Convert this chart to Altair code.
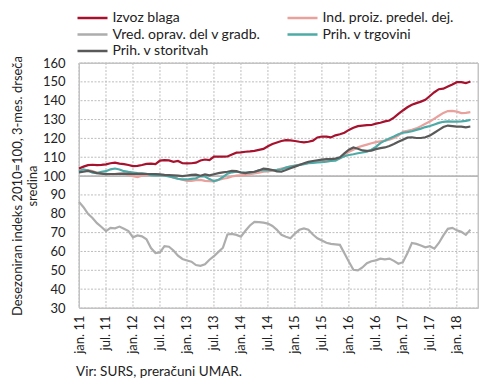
import altair as alt
import pandas as pd

# month index: 0 = jan. 2011 ... 87 = apr. 2018
months = list(range(88))

izvoz = [104.0, 105.0, 105.8, 106.0, 105.8, 105.9, 106.2, 106.8, 107.1, 106.6,
         106.3, 105.9, 105.3, 105.4, 105.9, 106.5, 106.6, 106.3, 108.2, 108.5,
         108.3, 107.6, 108.0, 106.8, 106.7, 106.8, 107.1, 108.3, 108.8, 108.5,
         110.3, 110.4, 110.3, 110.4, 111.5, 112.4, 112.6, 112.9, 113.1, 113.4,
         113.9, 114.4, 115.8, 117.0, 117.8, 118.6, 119.1, 118.9, 118.6, 118.2,
         117.9, 118.2, 118.8, 120.5, 121.0, 120.9, 120.5, 121.6, 122.2, 123.0,
         124.5, 125.6, 126.5, 126.8, 127.0, 127.1, 127.8, 128.3, 129.0, 129.5,
         131.0, 133.0, 134.8, 136.5, 137.8, 138.7, 139.5, 140.5, 142.5, 144.5,
         146.1, 146.4, 147.5, 148.6, 149.8, 149.8, 149.3, 150.2]

ind_proiz = [102.8, 103.2, 103.2, 102.6, 101.8, 101.3, 101.1, 101.0, 101.0, 101.3,
             101.2, 100.6, 100.0, 99.5, 100.2, 100.5, 100.8, 101.0, 100.7, 100.3,
             100.0, 99.2, 98.6, 98.1, 97.5, 97.4, 97.8, 98.0, 97.5, 97.3,
             97.2, 97.9, 98.6, 99.0, 99.8, 100.2, 100.4, 100.6, 101.0, 101.4,
             101.8, 102.3, 102.5, 102.9, 103.3, 104.0, 104.5, 105.2, 105.6, 106.0,
             106.4, 107.0, 107.5, 108.0, 108.1, 108.2, 108.3, 108.8, 109.5, 111.2,
             112.9, 114.0, 115.3, 116.0, 116.7, 117.4, 118.0, 118.4, 118.8, 119.3,
             120.2, 121.5, 123.5, 124.0, 124.5, 125.3, 126.5, 127.8, 129.0, 130.5,
             132.0, 133.5, 134.5, 134.6, 134.2, 133.4, 133.5, 133.9]

gradb = [86.3, 83.5, 80.0, 77.8, 75.0, 73.0, 70.8, 72.5, 72.3, 73.2,
         72.0, 70.8, 67.5, 68.5, 68.0, 66.5, 61.8, 59.2, 59.5, 62.8,
         62.5, 60.5, 57.8, 56.0, 55.2, 54.6, 52.8, 52.4, 53.2, 55.6,
         57.5, 59.8, 62.0, 69.0, 69.3, 68.8, 67.8, 71.0, 73.8, 75.7,
         75.6, 75.3, 74.8, 73.5, 71.5, 68.8, 67.8, 67.0, 69.5, 71.5,
         72.2, 71.5, 69.0, 67.0, 65.8, 64.6, 64.0, 63.8, 63.5, 59.0,
         54.5, 50.3, 50.0, 51.5, 53.8, 54.8, 55.3, 56.2, 55.8, 56.2,
         55.0, 53.5, 54.3, 59.0, 64.5, 64.0, 63.2, 62.2, 62.8, 61.5,
         64.5, 68.5, 72.0, 72.5, 71.2, 70.4, 68.8, 71.6]

trgovina = [102.5, 103.6, 103.0, 101.8, 101.6, 102.3, 102.6, 103.6, 104.0, 103.5,
            102.6, 102.2, 101.9, 101.6, 101.4, 101.2, 100.5, 100.4, 100.5, 100.2,
            99.8, 99.3, 98.6, 98.2, 98.2, 98.5, 98.8, 100.0, 99.8, 98.4,
            97.3, 98.0, 99.5, 101.3, 102.0, 102.3, 102.0, 101.8, 101.9, 102.2,
            103.0, 103.3, 103.2, 103.2, 103.3, 103.5, 104.5, 105.0, 105.5, 105.9,
            106.3, 106.8, 107.0, 107.3, 107.4, 107.6, 108.0, 108.2, 109.5, 110.5,
            111.2, 111.6, 112.1, 112.5, 113.0, 114.0, 115.5, 117.5, 118.8, 120.0,
            121.0, 122.2, 123.0, 123.3, 123.8, 124.5, 125.2, 126.0, 126.6, 127.4,
            128.2, 128.8, 129.0, 128.9, 128.9, 129.0, 129.3, 129.8]

storitve = [102.0, 102.3, 102.7, 102.3, 101.6, 101.3, 101.0, 101.1, 101.1, 101.2,
            101.3, 101.2, 101.1, 101.2, 101.2, 101.1, 101.1, 101.0, 100.9, 100.6,
            100.5, 100.4, 100.2, 100.0, 100.3, 100.6, 100.8, 100.2, 100.9, 100.4,
            101.0, 101.6, 102.0, 102.3, 102.8, 102.6, 101.9, 101.6, 102.1, 102.3,
            103.0, 104.0, 103.7, 103.2, 102.5, 102.3, 103.2, 104.2, 105.0, 105.9,
            106.8, 107.5, 108.0, 108.4, 108.7, 109.0, 109.0, 109.3, 110.0, 112.0,
            114.0, 115.2, 114.5, 113.6, 113.4, 113.5, 114.3, 114.8, 115.2, 116.0,
            117.0, 118.2, 119.3, 120.4, 120.6, 120.2, 120.2, 120.6, 121.5, 123.0,
            124.5, 126.0, 126.8, 126.5, 126.2, 126.2, 125.9, 126.3]

series_names = ["Izvoz blaga", "Ind. proiz. predel. dej.", "Vred. oprav. del v gradb.",
                "Prih. v trgovini", "Prih. v storitvah"]
series_colors = ["#A6122D", "#E8A19D", "#ADADAD", "#4DAAA6", "#595959"]
series_values = [izvoz, ind_proiz, gradb, trgovina, storitve]
draw_order = [2, 1, 3, 4, 0]

x_tick_pos = list(range(0, 85, 6))
x_tick_labels = ["jan. 11", "jul. 11", "jan. 12", "jul. 12", "jan. 13", "jul. 13",
                 "jan. 14", "jul. 14", "jan. 15", "jul. 15", "jan. 16", "jul. 16",
                 "jan. 17", "jul. 17", "jan. 18"]
y_ticks = list(range(30, 161, 10))
y_title = ["Desezoniran indeks 2010=100, 3-mes. drseča", "sredina"]
source_note = "Vir: SURS, preračuni UMAR."
ref_level = [100]

rows = []
for k in draw_order:
    for m, v in zip(months, series_values[k]):
        rows.append({"m": m, "v": v, "serija": series_names[k]})
df = pd.DataFrame(rows)

FONT = "Lato"
W, H = 399, 245
GRID = "#bdbdbd"

label_expr = "[" + ",".join("'%s'" % s for s in x_tick_labels) + "][datum.value / 6]"

x_scale = alt.Scale(domain=[0, 88.7], nice=False, zero=False)
x_axis = alt.Axis(values=x_tick_pos, labelExpr=label_expr, labelAngle=270,
                  labelFontSize=13, labelColor="#222222", labelFont=FONT,
                  labelPadding=7, ticks=False, domain=False, grid=False,
                  labelOverlap=False, title=None)
y_axis = alt.Axis(values=y_ticks, labelFontSize=13, labelColor="#222222",
                  labelFont=FONT, labelPadding=14, ticks=False, domain=False,
                  labelOverlap=False, grid=False,
                  title=y_title, titleFont=FONT, titleFontSize=13,
                  titleFontWeight="normal", titleColor="#222222",
                  titleLineHeight=15, titleAngle=270, titleAlign="center",
                  titleBaseline="top", titleX=-68, titleY=H / 2)
y_scale = alt.Scale(domain=[30, 160], nice=False, zero=False)

grid_x = alt.Chart(pd.DataFrame({"m": x_tick_pos})).mark_rule(
    color=GRID, strokeWidth=1, strokeDash=[2, 1.5]
).encode(x=alt.X("m:Q", scale=x_scale, axis=x_axis))

grid_y = alt.Chart(pd.DataFrame({"v": y_ticks})).mark_rule(
    color=GRID, strokeWidth=1, strokeDash=[2, 1.5]
).encode(y=alt.Y("v:Q", scale=y_scale, axis=y_axis))

frame = alt.Chart(pd.DataFrame({"f": [0]})).mark_rect(
    fillOpacity=0, stroke="#c4c4c4", strokeWidth=1
).encode(x=alt.value(0), x2=alt.value(W), y=alt.value(0), y2=alt.value(H))

lines = alt.Chart(df).mark_line(strokeWidth=2.2).encode(
    x=alt.X("m:Q", scale=x_scale, axis=x_axis),
    y=alt.Y("v:Q", scale=y_scale, axis=y_axis),
    color=alt.Color("serija:N",
                    scale=alt.Scale(domain=series_names, range=series_colors),
                    legend=alt.Legend(orient="none", legendX=6.5, legendY=-52, columns=2,
                                      direction="horizontal",
                                      symbolType="M-3,0H3", symbolSize=100,
                                      symbolStrokeWidth=2.5, labelFont=FONT,
                                      labelFontSize=14, labelFontWeight="normal",
                                      labelColor="#222222",
                                      labelOffset=13, rowPadding=2.5,
                                      columnPadding=22, title=None, labelLimit=300)),
)

ref = alt.Chart(pd.DataFrame({"v": ref_level})).mark_rule(color="#b8b8b8", strokeWidth=1.6).encode(
    y=alt.Y("v:Q", scale=y_scale, axis=y_axis)
)

note = alt.Chart(pd.DataFrame({"t": [source_note]})).mark_text(
    align="left", baseline="middle", font=FONT, fontSize=13.5, color="#222222"
).encode(text="t:N", x=alt.value(-3), y=alt.value(H + 64))

chart = alt.layer(grid_x, grid_y, frame, ref, lines, note).properties(
    width=W, height=H,
    autosize=alt.AutoSizeParams(type="none"),
    padding={"left": 71, "top": 55, "right": 4, "bottom": 76},
).configure_view(stroke="#c4c4c4", strokeWidth=1)

chart.save("out.html", embed_options={"renderer": "svg", "actions": False})
